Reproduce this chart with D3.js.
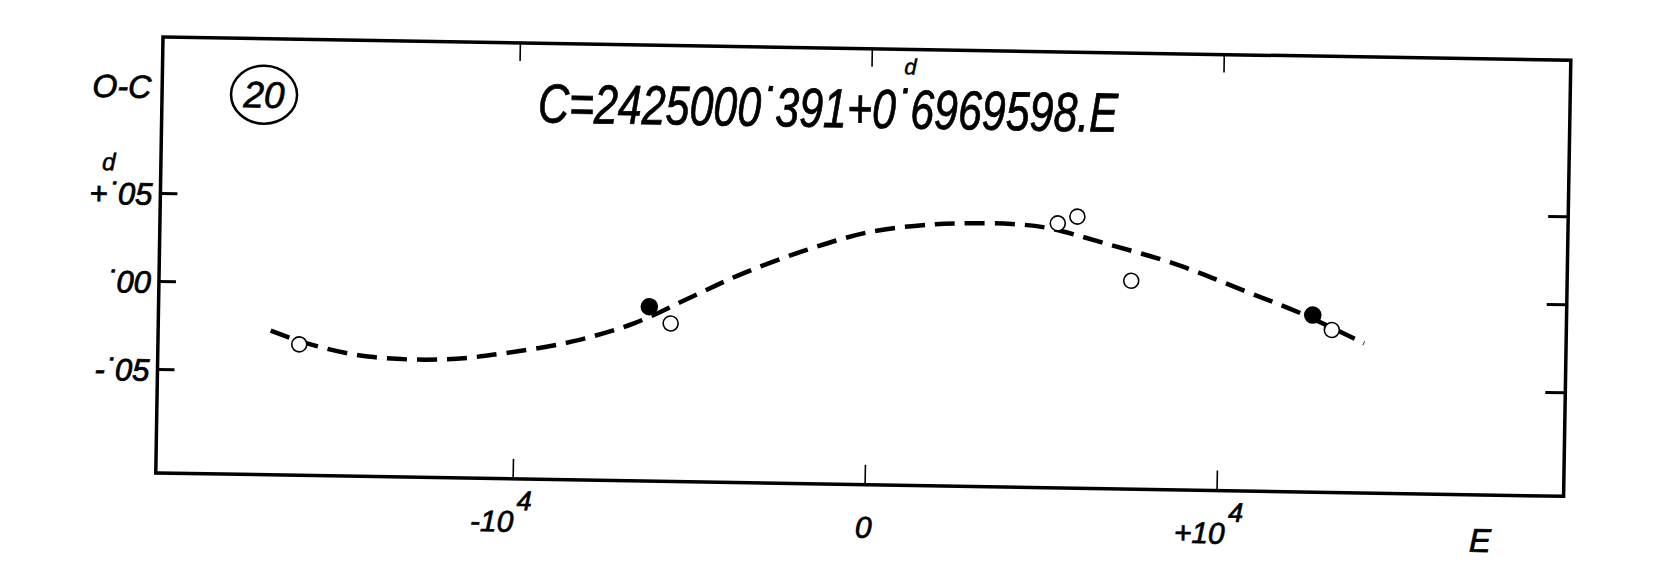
<!DOCTYPE html>
<html>
<head>
<meta charset="utf-8">
<script src="https://cdn.jsdelivr.net/npm/d3@7"></script>
<style>
body { margin: 0; background: #fff; }
text { font-family: "Liberation Sans", Arial, sans-serif; font-style: italic; fill: #000; }
</style>
</head>
<body>
<div id="oc"></div>
<script>
// observations O-C (jours) en fonction de l'epoque E
var epoques = [-16125, -6199, -5585, 5364, 5918, 7477, 12651, 13199];
var residus = [-0.0347, -0.0100, -0.0193, 0.0412, 0.0452, 0.0093, -0.0085, -0.0168];
var pleins = [false, true, false, false, false, false, true, false];

// courbe tiretee tracee a la main
var courbeE = [-16943, -15750, -14097, -11952, -10293, -8395, -6628, -4991, -3531, -1733,
    63, 1878, 2827, 4065, 5051, 6716, 8815, 10631, 12307, 14122];
var courbeOC = [-0.0272, -0.0349, -0.0411, -0.0418, -0.0378, -0.0306, -0.0196, -0.0039, 0.0100, 0.0239,
    0.0347, 0.0395, 0.0404, 0.0404, 0.0386, 0.0303, 0.0186, 0.0051, -0.0076, -0.0241];

var yTicks = [0.05, 0, -0.05];
var yLabels = ["+\u02d905", "\u02d900", "-\u02d905"];
var xTicks = [-10000, 0, 10000];
var xLabels = ["-10", "0", "+10"];
var xExposants = ["4", "", "4"];

var formule = "C=2425000\u02d9391+0\u02d96969598.E";
var numero = "20";

var W = 1666, H = 572;
var w = 1408, h = 436;

var x = d3.scaleLinear()
    .domain([-20140, 19860])
    .range([0, w]);

var y = d3.scaleLinear()
    .domain([-0.10909, 0.13864])
    .range([h, 0]);

var svg = d3.select("#oc").append("svg")
    .attr("width", W)
    .attr("height", H);

/* le scan est legerement tourne */
var g = svg.append("g")
    .attr("transform", "translate(163,37) rotate(0.95)");

// ticks
g.append("g")
    .call(d3.axisLeft(y).tickValues(yTicks).tickSize(-17).tickFormat(""))
    .call(function(s) { s.select(".domain").remove(); })
    .selectAll("line").attr("stroke", "#000").attr("stroke-width", 3);

g.append("g")
    .attr("transform", "translate(" + w + ",0)")
    .call(d3.axisRight(y).tickValues(yTicks).tickSize(-20).tickFormat(""))
    .call(function(s) { s.select(".domain").remove(); })
    .selectAll("line").attr("stroke", "#000").attr("stroke-width", 3);

g.append("g")
    .attr("transform", "translate(0," + h + ")")
    .call(d3.axisBottom(x).tickValues(xTicks).tickSize(-20).tickFormat(""))
    .call(function(s) { s.select(".domain").remove(); })
    .selectAll("line").attr("stroke", "#000").attr("stroke-width", 1.6);

g.append("g")
    .call(d3.axisTop(x).tickValues(xTicks).tickSize(-18).tickFormat(""))
    .call(function(s) { s.select(".domain").remove(); })
    .selectAll("line").attr("stroke", "#000").attr("stroke-width", 1.6);

// cadre
g.append("rect")
    .attr("x", 0)
    .attr("y", 0)
    .attr("width", w)
    .attr("height", h)
    .attr("fill", "none")
    .attr("stroke", "#000")
    .attr("stroke-width", 3.5);

// etiquettes de l'axe vertical
g.selectAll("text.ylab")
    .data(yTicks)
    .enter().append("text")
    .attr("class", "ylab")
    .attr("x", -8)
    .attr("y", function(d) { return y(d) + 12; })
    .attr("text-anchor", "end")
    .attr("font-size", 31)
    .attr("stroke", "#000")
    .attr("stroke-width", 0.8)
    .text(function(d, i) { return yLabels[i]; });

g.append("text")
    .attr("x", -11)
    .attr("y", 61)
    .attr("text-anchor", "end")
    .attr("font-size", 32)
    .attr("stroke", "#000")
    .attr("stroke-width", 0.8)
    .text("O-C");

g.append("text")
    .attr("x", -52)
    .attr("y", 134)
    .attr("text-anchor", "middle")
    .attr("font-size", 24)
    .attr("stroke", "#000")
    .attr("stroke-width", 0.6)
    .text("d");

// etiquettes de l'axe horizontal
var xl = g.selectAll("text.xlab")
    .data(xTicks)
    .enter().append("text")
    .attr("class", "xlab")
    .attr("x", function(d, i) { return x(d) - (xLabels[i].length > 1 ? 42 : 9); })
    .attr("y", 489)
    .attr("font-size", 30)
    .attr("stroke", "#000")
    .attr("stroke-width", 0.7);

xl.append("tspan")
    .text(function(d, i) { return xLabels[i]; });

xl.append("tspan")
    .attr("dy", -22)
    .attr("dx", 3)
    .attr("font-size", 27)
    .text(function(d, i) { return xExposants[i]; });

g.append("text")
    .attr("x", 1314)
    .attr("y", 493)
    .attr("font-size", 33)
    .attr("stroke", "#000")
    .attr("stroke-width", 0.7)
    .text("E");

// formule des elements
g.append("text")
    .attr("x", 376)
    .attr("y", 79)
    .attr("font-size", 55)
    .attr("textLength", 580)
    .attr("lengthAdjust", "spacingAndGlyphs")
    .attr("stroke", "#000")
    .attr("stroke-width", 0.8)
    .text(formule);

g.append("text")
    .attr("x", 748)
    .attr("y", 25)
    .attr("text-anchor", "middle")
    .attr("font-size", 22)
    .attr("stroke", "#000")
    .attr("stroke-width", 0.5)
    .text("d");

// numero entoure
g.append("ellipse")
    .attr("cx", 102)
    .attr("cy", 56)
    .attr("rx", 33)
    .attr("ry", 29)
    .attr("fill", "none")
    .attr("stroke", "#000")
    .attr("stroke-width", 2.5);

g.append("text")
    .attr("x", 102)
    .attr("y", 69)
    .attr("text-anchor", "middle")
    .attr("font-size", 37)
    .attr("stroke", "#000")
    .attr("stroke-width", 0.7)
    .text(numero);

// courbe
var courbe = d3.line()
    .x(function(d) { return x(d[0]); })
    .y(function(d) { return y(d[1]); })
    .curve(d3.curveCatmullRom.alpha(0.5));

g.append("path")
    .datum(courbeE.map(function(e, i) { return [e, courbeOC[i]]; }))
    .attr("d", courbe)
    .attr("fill", "none")
    .attr("stroke", "#000")
    .attr("stroke-width", 4.5)
    .attr("stroke-dasharray", "20,10");

// points
g.selectAll("circle.obs")
    .data(epoques)
    .enter().append("circle")
    .attr("class", "obs")
    .attr("cx", function(d) { return x(d); })
    .attr("cy", function(d, i) { return y(residus[i]); })
    .attr("r", function(d, i) { return pleins[i] ? 8 : 7.5; })
    .attr("fill", function(d, i) { return pleins[i] ? "#000" : "#fff"; })
    .attr("stroke", "#000")
    .attr("stroke-width", 1.6);
</script>
</body>
</html>
